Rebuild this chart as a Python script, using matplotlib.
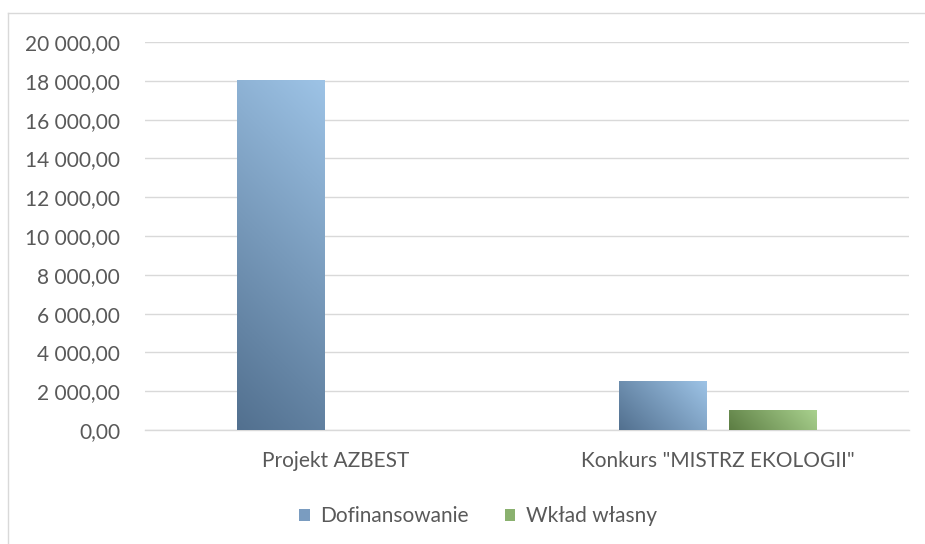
import numpy as np
import matplotlib.pyplot as plt
from matplotlib.colors import LinearSegmentedColormap
from matplotlib.patches import Patch
from matplotlib.lines import Line2D
from matplotlib.ticker import FuncFormatter

# dane
categories = ['Projekt AZBEST', 'Konkurs "MISTRZ EKOLOGII"']
dofinansowanie = [18000, 2500]
wklad_wlasny = [0, 1000]
series_names = ['Dofinansowanie', 'Wkład własny']
y_ticks = np.arange(0, 20001, 2000)

plt.rcParams['font.family'] = ['Lato', 'DejaVu Sans']
txt = '#595959'
grid_c = '#d9d9d9'
fs = 15

blue = ('#52708f', '#9dc3e6')
green = ('#5c7d43', '#a9d18e')

AX_W, AX_H = 764, 388  # rozmiar osi w pikselach
X_SPAN, Y_SPAN = 2.0, 20000.0


def gradient_bar(ax, x, w, h, colors):
    # gradient pod katem 45 stopni w pikselach: ciemny lewy-dol, jasny prawy-gora
    if h <= 0:
        return
    wp = w / X_SPAN * AX_W
    hp = h / Y_SPAN * AX_H
    U, V = np.meshgrid(np.linspace(0, 1, 100), np.linspace(0, 1, 200))
    t = (U * wp + V * hp) / (wp + hp)
    cmap = LinearSegmentedColormap.from_list('g', colors)
    ax.imshow(t, cmap=cmap, extent=[x, x + w, 0, h], origin='lower',
              aspect='auto', interpolation='bilinear', zorder=3, vmin=0, vmax=1)


def pl_format(v, pos):
    s = f'{v:,.2f}'
    return s.replace(',', ' ').replace('.', ',')


fig = plt.figure(figsize=(9.25, 5.44), dpi=100)
ax = fig.add_axes([145 / 925, 114 / 544, AX_W / 925, AX_H / 544])

width = 0.228
offset = 0.144
xs = np.arange(len(categories))
for i, x in enumerate(xs):
    gradient_bar(ax, x - offset - width / 2, width, dofinansowanie[i], blue)
    gradient_bar(ax, x + offset - width / 2, width, wklad_wlasny[i], green)

ax.set_xlim(-0.5, len(categories) - 0.5)
ax.set_ylim(0, 20000)
ax.set_yticks(y_ticks)
ax.yaxis.set_major_formatter(FuncFormatter(pl_format))
ax.set_xticks(xs)
ax.set_xticklabels(categories)
ax.grid(axis='y', color=grid_c, linewidth=1.0, zorder=0)
ax.set_axisbelow(True)
for s in ['top', 'right', 'left']:
    ax.spines[s].set_visible(False)
ax.spines['bottom'].set_color(grid_c)
ax.spines['bottom'].set_linewidth(1.0)
ax.tick_params(axis='both', length=0, labelsize=fs, labelcolor=txt)
ax.tick_params(axis='y', pad=18)
ax.tick_params(axis='x', pad=15)

handles = [Patch(facecolor='#7a9cc0', edgecolor='none'),
           Patch(facecolor='#8ab16f', edgecolor='none')]
leg = fig.legend(handles, series_names, loc='center', bbox_to_anchor=(478 / 925, 1 - 516 / 544),
                 ncol=2, frameon=False, fontsize=fs, handlelength=0.5, handleheight=0.5,
                 handletextpad=0.5, columnspacing=1.75)
for t in leg.get_texts():
    t.set_color(txt)

# ramka wykresu
fig.add_artist(Line2D([7.5 / 925, 7.5 / 925], [0, 1 - 12.5 / 544], color=grid_c, linewidth=1.0))
fig.add_artist(Line2D([7.5 / 925, 1], [1 - 12.5 / 544, 1 - 12.5 / 544], color=grid_c, linewidth=1.0))

fig.savefig('out.png', dpi=100, facecolor='white')
